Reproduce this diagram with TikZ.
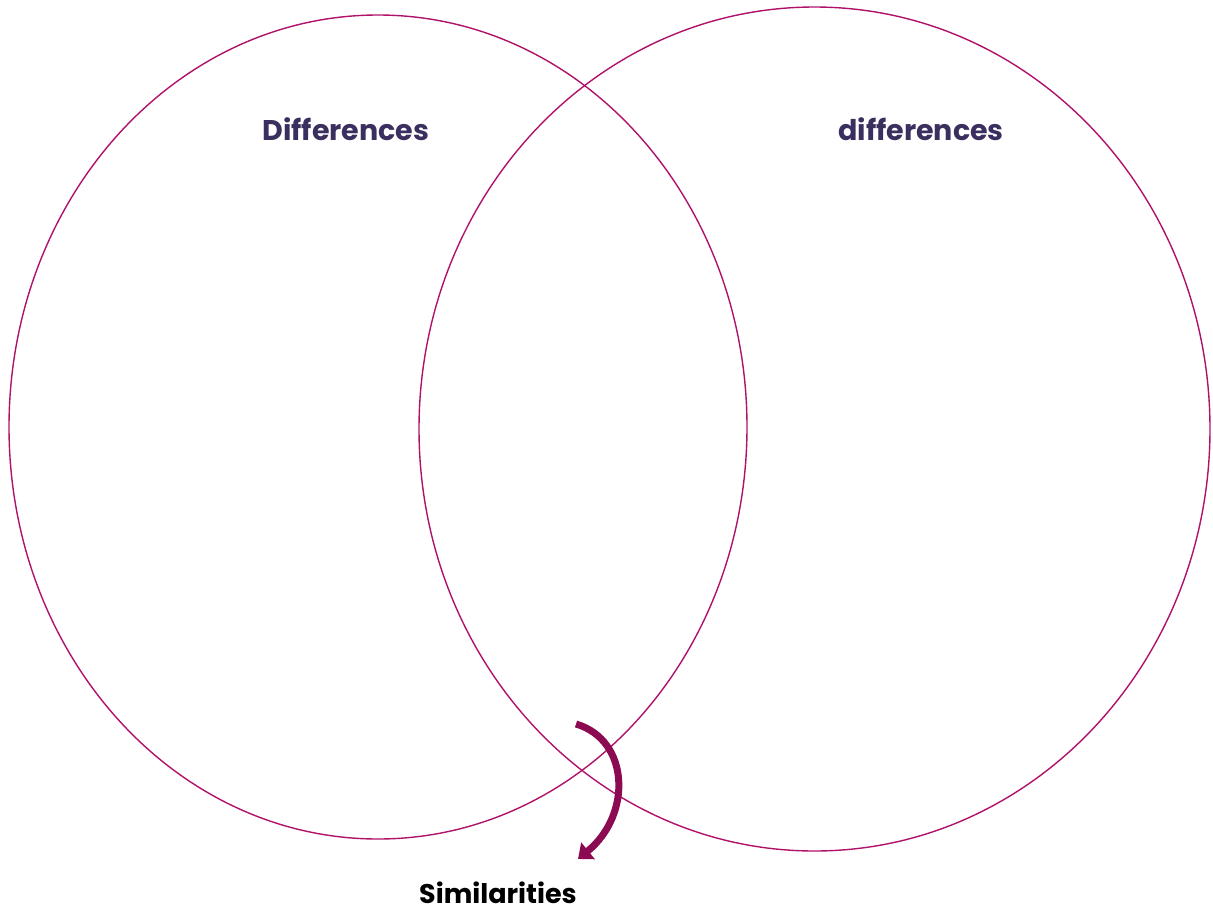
\documentclass[tikz,border=0pt]{standalone}
\usepackage{fontspec}
\setmainfont{Poppins}
\usetikzlibrary{arrows.meta}
\definecolor{ring}{HTML}{B0126A}
\definecolor{arrowc}{HTML}{8C0A52}
\definecolor{head}{HTML}{3A2F5E}
\tikzset{
  ringline/.style={draw=ring, line width=1.4pt},
  heading/.style={font=\bfseries\fontsize{28.5}{32}\selectfont, text=head, inner sep=0pt},
  simlabel/.style={font=\bfseries\fontsize{27}{31}\selectfont, text=black, inner sep=0pt},
  bigarrow/.style={draw=arrowc, line width=7pt, -{Triangle[length=13pt,width=21pt]}}
}
\begin{document}
\begin{tikzpicture}[x=1pt,y=-1pt]
\useasboundingbox (0,0) rectangle (1213,911);
\draw[ringline] (378,427) ellipse [x radius=369, y radius=412];
\draw[ringline] (814.5,429) ellipse [x radius=395.5, y radius=422];
\node[heading] (dl) at (346,129) {Differences};
\node[heading] (dr) at (921,129) {differences};
\node[simlabel] (sim) at (498,893) {Similarities};
\coordinate (astart) at (576,724);
\coordinate (aend) at (578,859);
\draw[bigarrow] (astart) .. controls (630,740) and (632,815) .. (aend);
\end{tikzpicture}
\end{document}
